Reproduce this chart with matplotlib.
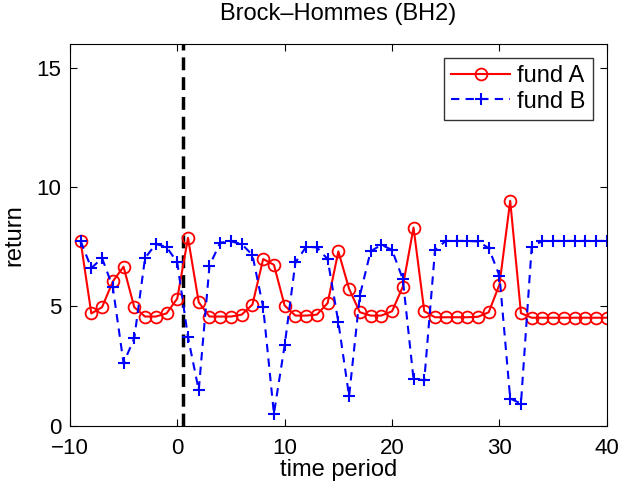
import matplotlib
matplotlib.use('Agg')
import matplotlib.pyplot as plt

plt.rcParams['font.family'] = ['Liberation Sans', 'DejaVu Sans']

periods = list(range(-9, 41))
fund_a = [7.74, 4.70, 4.96, 6.04, 6.66, 4.96, 4.57, 4.57, 4.70, 5.32,
          7.87, 5.17, 4.57, 4.57, 4.57, 4.65, 5.07, 6.98, 6.74, 5.03,
          4.61, 4.61, 4.65, 5.13, 7.30, 5.73, 4.75, 4.61, 4.61, 4.79,
          5.82, 8.30, 4.79, 4.54, 4.54, 4.54, 4.54, 4.56, 4.75, 5.91,
          9.42, 4.71, 4.52, 4.52, 4.52, 4.52, 4.52, 4.52, 4.52, 4.52]
fund_b = [7.74, 6.60, 7.02, 5.80, 2.62, 3.66, 7.02, 7.61, 7.49, 6.84,
          3.71, 1.48, 6.70, 7.67, 7.72, 7.61, 7.15, 4.96, 0.50, 3.36,
          6.84, 7.49, 7.47, 6.98, 4.33, 1.23, 5.45, 7.30, 7.58, 7.36,
          6.14, 1.94, 1.90, 7.36, 7.74, 7.74, 7.74, 7.72, 7.44, 6.28,
          1.13, 0.92, 7.49, 7.74, 7.74, 7.74, 7.74, 7.74, 7.74, 7.74]
break_x = 0.5

fig = plt.figure(figsize=(6.18, 4.83), dpi=100)
ax = fig.add_axes([0.113, 0.119, 0.869, 0.79])

ax.plot([break_x, break_x], [0, 16], color='black', linestyle=(0, (3.7, 2)), linewidth=2.5)
ax.plot(periods, fund_a, color='red', marker='o', markersize=8.5, markerfacecolor='none',
        markeredgewidth=1.3, linewidth=1.5, label='fund A')
ax.plot(periods, fund_b, color='blue', marker='+', markersize=9, markeredgewidth=1.5,
        linestyle=(0, (4, 3)), linewidth=1.5, label='fund B')

ax.set_xlim(-10, 40)
ax.set_ylim(0, 16)
ax.set_xticks([-10, 0, 10, 20, 30, 40])
ax.set_xticklabels(['\u221210', '0', '10', '20', '30', '40'])
ax.set_yticks([0, 5, 10, 15])
ax.tick_params(direction='in', top=True, right=True, labelsize=16, length=5)
ax.tick_params(axis='x', pad=9)
ax.tick_params(axis='y', pad=6)
ax.set_title('Brock\u2013Hommes (BH2)', fontsize=17, pad=17)
ax.set_xlabel('time period', fontsize=17, labelpad=0)
ax.set_ylabel('return', fontsize=17, labelpad=8)

leg = ax.legend(loc='upper right', fontsize=17, frameon=True, fancybox=False,
                edgecolor='black', handlelength=2.5, borderaxespad=0.6,
                labelspacing=0.15, handletextpad=0.3, borderpad=0.3)
leg.get_frame().set_linewidth(1)

fig.savefig('out.png', dpi=100)
